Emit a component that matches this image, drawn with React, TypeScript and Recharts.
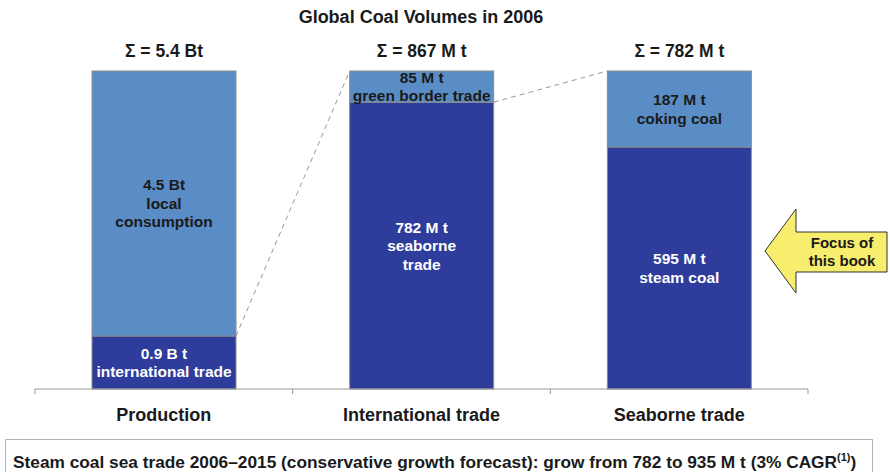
import { BarChart, Bar, XAxis, YAxis, LabelList } from "recharts"

const categories = ["Production", "International trade", "Seaborne trade"]
const lowerValues = [0.9, 782, 595]
const upperValues = [4.5, 85, 187]
const lowerUnits = ["B t", "M t", "M t"]
const upperUnits = ["Bt", "M t", "M t"]
const totalUnits = ["Bt", "M t", "M t"]
const lowerNotes = [["international trade"], ["seaborne", "trade"], ["steam coal"]]
const upperNotes = [["local", "consumption"], ["green border trade"], ["coking coal"]]
const edgeTicks = [0, 1, 2, 3]

const LIGHT = "#5A8DC6"
const DARK = "#2E3C9B"
const OUTLINE = "#8c8c8c"
const FONT = "'Liberation Sans', Arial, sans-serif"

const data = categories.map((name, i) => ({
  name,
  slot: i + 0.5,
  lower: lowerValues[i],
  upper: upperValues[i],
}))

const totals = categories.map((_, i) => Number((lowerValues[i] + upperValues[i]).toFixed(1)))

// top-right corner of each lower segment, used for the dashed "zoom" lines
const lowerCorners: Record<number, { x: number; y: number }> = {}

function LowerShape(props: any) {
  const { x, y, width, height, index } = props
  lowerCorners[index] = { x: x + width, y }
  return <rect x={x} y={y} width={width} height={height} fill={DARK} stroke={OUTLINE} strokeWidth={1} />
}

function UpperShape(props: any) {
  const { x, y, width, height, index } = props
  const prev = lowerCorners[index - 1]
  return (
    <g>
      <rect x={x} y={y} width={width} height={height} fill={LIGHT} stroke={OUTLINE} strokeWidth={1} />
      {prev && (
        <line x1={prev.x} y1={prev.y} x2={x} y2={y} stroke="#999" strokeWidth={1} strokeDasharray="5 4" />
      )}
    </g>
  )
}

function segmentLabel(lines: string[][], values: number[], units: string[], color: string) {
  return (props: any) => {
    const { x, y, width, height, index } = props
    const rows = [`${values[index]} ${units[index]}`, ...lines[index]]
    const lh = 18.5
    const cx = x + width / 2
    const top = y + height / 2 - ((rows.length - 1) * lh) / 2
    return (
      <text x={cx} textAnchor="middle" fill={color} fontSize={15.5} fontWeight="bold" fontFamily={FONT}>
        {rows.map((r, k) => (
          <tspan key={k} x={cx} y={top + k * lh} dy="0.35em">
            {r}
          </tspan>
        ))}
      </text>
    )
  }
}

function totalLabel(props: any) {
  const { x, y, width, index } = props
  return (
    <text x={x + width / 2} y={y - 20} dy="0.35em" textAnchor="middle" fill="#1a1a1a" fontSize={17.5} fontWeight="bold" fontFamily={FONT}>
      {`Σ = ${totals[index]} ${totalUnits[index]}`}
    </text>
  )
}

export default function App() {
  return (
    <div style={{ position: "relative", width: 890, height: 472, overflow: "hidden", background: "#fff" }}>
      <style>{"body{margin:0}"}</style>
      <div
        style={{
          position: "absolute",
          top: 7,
          left: 0,
          width: 842,
          textAlign: "center",
          fontFamily: FONT,
          fontWeight: "bold",
          fontSize: 18,
          lineHeight: "20px",
          color: "#1a1a1a",
        }}
      >
        Global Coal Volumes in 2006
      </div>

      <div style={{ position: "absolute", top: 0, left: 0 }}>
        <BarChart
          width={890}
          height={472}
          data={data}
          stackOffset="expand"
          barSize={144}
          margin={{ top: 71, right: 82, bottom: 52, left: 35 }}
        >
          {/* baseline with ticks at the category boundaries */}
          <XAxis
            dataKey="slot"
            type="number"
            domain={[0, 3]}
            allowDataOverflow
            ticks={edgeTicks}
            interval={0}
            tickFormatter={() => ""}
            height={1}
            stroke="#999"
            tickSize={5}
          />
          <XAxis
            xAxisId="cat"
            dataKey="name"
            axisLine={false}
            tickLine={false}
            height={30}
            tickMargin={12}
            tick={{ fontSize: 18, fontWeight: "bold", fill: "#1a1a1a", fontFamily: FONT }}
          />
          <YAxis hide domain={[0, 1]} />
          <Bar xAxisId="cat" dataKey="lower" stackId="s" shape={LowerShape} isAnimationActive={false}>
            <LabelList dataKey="lower" content={segmentLabel(lowerNotes, lowerValues, lowerUnits, "#ffffff")} />
          </Bar>
          <Bar xAxisId="cat" dataKey="upper" stackId="s" shape={UpperShape} isAnimationActive={false}>
            <LabelList dataKey="upper" content={segmentLabel(upperNotes, upperValues, upperUnits, "#1a1a1a")} />
            <LabelList dataKey="upper" content={totalLabel} />
          </Bar>
        </BarChart>
      </div>

      <svg width={890} height={472} style={{ position: "absolute", top: 0, left: 0, pointerEvents: "none" }}>
        <polygon
          points="765,251 796,209 796,232 887,232 887,272 796,272 796,293"
          fill="#F6EE6C"
          stroke="#333"
          strokeWidth={1}
        />
        <text x={842} textAnchor="middle" fontFamily={FONT} fontWeight="bold" fontSize={15} fill="#1a1a1a">
          <tspan x={842} y={248}>Focus of</tspan>
          <tspan x={842} y={266}>this book</tspan>
        </text>
      </svg>

      <div
        style={{
          position: "absolute",
          left: 5,
          top: 439,
          width: 868,
          height: 44,
          border: "1px solid #b4b4b4",
          boxSizing: "border-box",
          paddingTop: 12,
          paddingLeft: 7,
          fontFamily: FONT,
          fontWeight: "bold",
          fontSize: 17.3,
          lineHeight: "20px",
          color: "#1a1a1a",
          whiteSpace: "nowrap",
        }}
      >
        Steam coal sea trade 2006–2015 (conservative growth forecast): grow from 782 to 935 M t (3% CAGR
        <sup style={{ fontSize: 11, lineHeight: 0 }}>(1)</sup>)
      </div>
    </div>
  )
}
